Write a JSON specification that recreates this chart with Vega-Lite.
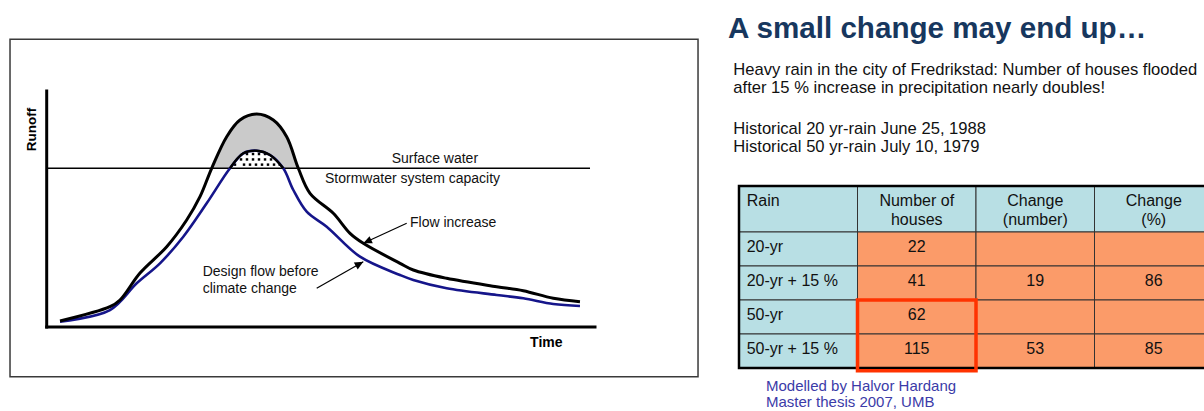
{
  "$schema": "https://vega.github.io/schema/vega-lite/v6.json",
  "padding": 0,
  "spacing": 0,
  "background": "white",
  "config": {
    "view": {"stroke": null},
    "axis": {"disable": true},
    "legend": {"disable": true},
    "font": "Liberation Sans",
    "text": {"font": "Liberation Sans", "color": "#111111"}
  },
  "datasets": {
    "flow": [
      {"series": "climate", "time": 2.43, "runoff": 2.54},
      {"series": "climate", "time": 11.54, "runoff": 8.6},
      {"series": "climate", "time": 13.37, "runoff": 11.44},
      {"series": "climate", "time": 17.02, "runoff": 22.88},
      {"series": "climate", "time": 21.89, "runoff": 34.03},
      {"series": "climate", "time": 25.53, "runoff": 45.34},
      {"series": "climate", "time": 27.96, "runoff": 55.21},
      {"series": "climate", "time": 30.09, "runoff": 67.25},
      {"series": "climate", "time": 32.83, "runoff": 80.64},
      {"series": "climate", "time": 35.25, "runoff": 87.71},
      {"series": "climate", "time": 38.3, "runoff": 90.25},
      {"series": "climate", "time": 41.33, "runoff": 87.71},
      {"series": "climate", "time": 43.77, "runoff": 80.64},
      {"series": "climate", "time": 45.89, "runoff": 67.25},
      {"series": "climate", "time": 48.02, "runoff": 56.65},
      {"series": "climate", "time": 52.27, "runoff": 48.18},
      {"series": "climate", "time": 55.32, "runoff": 39.7},
      {"series": "climate", "time": 57.74, "runoff": 35.47},
      {"series": "climate", "time": 64.44, "runoff": 26.99},
      {"series": "climate", "time": 66.86, "runoff": 24.15},
      {"series": "climate", "time": 72.95, "runoff": 20.64},
      {"series": "climate", "time": 82.07, "runoff": 17.08},
      {"series": "climate", "time": 86.92, "runoff": 15.38},
      {"series": "climate", "time": 92.39, "runoff": 12.16},
      {"series": "climate", "time": 97.26, "runoff": 10.72},
      {"series": "design", "time": 2.43, "runoff": 2.25},
      {"series": "design", "time": 11.54, "runoff": 7.2},
      {"series": "design", "time": 16.41, "runoff": 18.52},
      {"series": "design", "time": 20.66, "runoff": 26.99},
      {"series": "design", "time": 24.91, "runoff": 38.26},
      {"series": "design", "time": 29.18, "runoff": 52.42},
      {"series": "design", "time": 33.43, "runoff": 67.25},
      {"series": "design", "time": 35.86, "runoff": 73.6},
      {"series": "design", "time": 38.3, "runoff": 74.7},
      {"series": "design", "time": 40.73, "runoff": 72.88},
      {"series": "design", "time": 43.15, "runoff": 67.25},
      {"series": "design", "time": 44.98, "runoff": 58.05},
      {"series": "design", "time": 47.42, "runoff": 48.86},
      {"series": "design", "time": 51.07, "runoff": 42.5},
      {"series": "design", "time": 57.14, "runoff": 29.79},
      {"series": "design", "time": 64.44, "runoff": 22.03},
      {"series": "design", "time": 66.86, "runoff": 19.92},
      {"series": "design", "time": 72.95, "runoff": 16.4},
      {"series": "design", "time": 82.07, "runoff": 13.56},
      {"series": "design", "time": 86.92, "runoff": 12.16},
      {"series": "design", "time": 92.39, "runoff": 9.75},
      {"series": "design", "time": 97.26, "runoff": 8.9}
    ],
    "peakClimate": [
      {"time": 30.09, "runoff": 67.25, "capacity": 67.25},
      {"time": 32.83, "runoff": 80.64, "capacity": 67.25},
      {"time": 35.25, "runoff": 87.71, "capacity": 67.25},
      {"time": 38.3, "runoff": 90.25, "capacity": 67.25},
      {"time": 41.33, "runoff": 87.71, "capacity": 67.25},
      {"time": 43.77, "runoff": 80.64, "capacity": 67.25},
      {"time": 45.89, "runoff": 67.25, "capacity": 67.25}
    ],
    "peakDesign": [
      {"time": 33.43, "runoff": 67.25, "capacity": 67.25},
      {"time": 35.86, "runoff": 73.6, "capacity": 67.25},
      {"time": 38.3, "runoff": 74.7, "capacity": 67.25},
      {"time": 40.73, "runoff": 72.88, "capacity": 67.25},
      {"time": 43.15, "runoff": 67.25, "capacity": 67.25}
    ],
    "dots": [
      {"time": 36.53, "runoff": 73.3}, {"time": 37.63, "runoff": 73.3}, {"time": 38.72, "runoff": 73.3}, {"time": 39.82, "runoff": 73.3},
      {"time": 35.44, "runoff": 71.0}, {"time": 36.53, "runoff": 71.0}, {"time": 37.63, "runoff": 71.0}, {"time": 38.72, "runoff": 71.0}, {"time": 39.82, "runoff": 71.0}, {"time": 40.91, "runoff": 71.0},
      {"time": 34.34, "runoff": 68.8}, {"time": 35.99, "runoff": 68.8}, {"time": 37.08, "runoff": 68.8}, {"time": 38.17, "runoff": 68.8}, {"time": 39.27, "runoff": 68.8}, {"time": 40.36, "runoff": 68.8}, {"time": 41.46, "runoff": 68.8}, {"time": 42.5, "runoff": 68.8}
    ]
  },
  "hconcat": [
    {
      "width": 704,
      "height": 411,
      "layer": [
        {
          "data": {"values": [{"time": -6.69, "time2": 118.79, "runoff": 121.9, "runoff2": -21.06}]},
          "mark": {"type": "rect", "fill": "transparent", "stroke": "#3a3a3a", "strokeWidth": 1.5},
          "encoding": {
            "x": {"field": "time", "type": "quantitative", "axis": null, "scale": {"domain": [-8.517, 119.88], "nice": false, "zero": false}},
            "x2": {"field": "time2"},
            "y": {"field": "runoff", "type": "quantitative", "axis": null, "scale": {"domain": [-35.59, 138.56], "nice": false, "zero": false}},
            "y2": {"field": "runoff2"}
          }
        },
        {
          "data": {"name": "peakClimate"},
          "mark": {"type": "area", "fill": "#cacaca", "interpolate": "catmull-rom"},
          "encoding": {
            "x": {"field": "time", "type": "quantitative", "axis": null},
            "y": {"field": "runoff", "type": "quantitative", "axis": null},
            "y2": {"field": "capacity"}
          }
        },
        {
          "data": {"name": "peakDesign"},
          "mark": {"type": "area", "fill": "#ffffff", "interpolate": "catmull-rom"},
          "encoding": {
            "x": {"field": "time", "type": "quantitative", "axis": null},
            "y": {"field": "runoff", "type": "quantitative", "axis": null},
            "y2": {"field": "capacity"}
          }
        },
        {
          "data": {"name": "dots"},
          "mark": {"type": "point", "shape": "square", "filled": true, "size": 6, "color": "#000000", "opacity": 1},
          "encoding": {
            "x": {"field": "time", "type": "quantitative", "axis": null},
            "y": {"field": "runoff", "type": "quantitative", "axis": null}
          }
        },
        {
          "data": {"values": [{"time": 0, "time2": 99.09, "runoff": 67.25}]},
          "mark": {"type": "rule", "color": "#000000", "strokeWidth": 1.5},
          "encoding": {
            "x": {"field": "time", "type": "quantitative", "axis": null},
            "x2": {"field": "time2"},
            "y": {"field": "runoff", "type": "quantitative", "axis": null}
          }
        },
        {
          "data": {"name": "flow"},
          "transform": [{"filter": "datum.series === 'design'"}],
          "mark": {"type": "line", "color": "#15158a", "strokeWidth": 2.6, "interpolate": "catmull-rom"},
          "encoding": {
            "x": {"field": "time", "type": "quantitative", "axis": null},
            "y": {"field": "runoff", "type": "quantitative", "axis": null}
          }
        },
        {
          "data": {"name": "peakDesign"},
          "mark": {"type": "line", "color": "#000000", "strokeWidth": 2.4, "interpolate": "catmull-rom"},
          "encoding": {
            "x": {"field": "time", "type": "quantitative", "axis": null},
            "y": {"field": "runoff", "type": "quantitative", "axis": null}
          }
        },
        {
          "data": {"name": "flow"},
          "transform": [{"filter": "datum.series === 'climate'"}],
          "mark": {"type": "line", "color": "#000000", "strokeWidth": 3, "interpolate": "catmull-rom"},
          "encoding": {
            "x": {"field": "time", "type": "quantitative", "axis": null},
            "y": {"field": "runoff", "type": "quantitative", "axis": null}
          }
        },
        {
          "data": {"values": [
            {"time": 0, "runoff": 0, "time2": 0, "runoff2": 100},
            {"time": 0, "runoff": 0, "time2": 100, "runoff2": 0}
          ]},
          "mark": {"type": "rule", "color": "#000000", "strokeWidth": 3, "strokeCap": "square"},
          "encoding": {
            "x": {"field": "time", "type": "quantitative", "axis": null},
            "y": {"field": "runoff", "type": "quantitative", "axis": null},
            "x2": {"field": "time2"},
            "y2": {"field": "runoff2"}
          }
        },
        {
          "data": {"values": [
            {"label": "Flow increase", "time": 65.66, "runoff": 43.94, "time2": 57.74, "runoff2": 35.47},
            {"label": "Design flow before climate change", "time": 49.24, "runoff": 16.4, "time2": 57.74, "runoff2": 27.67}
          ]},
          "mark": {"type": "rule", "color": "#000000", "strokeWidth": 1.2},
          "encoding": {
            "x": {"field": "time", "type": "quantitative", "axis": null},
            "y": {"field": "runoff", "type": "quantitative", "axis": null},
            "x2": {"field": "time2"},
            "y2": {"field": "runoff2"}
          }
        },
        {
          "data": {"values": [{"label": "Flow increase", "time": 57.74, "runoff": 35.47}]},
          "mark": {"type": "point", "shape": "M0,0L-0.45,1L0.45,1Z", "filled": true, "color": "#000000", "opacity": 1, "size": 300, "angle": 245.3},
          "encoding": {
            "x": {"field": "time", "type": "quantitative", "axis": null},
            "y": {"field": "runoff", "type": "quantitative", "axis": null}
          }
        },
        {
          "data": {"values": [{"label": "Design flow before climate change", "time": 57.74, "runoff": 27.67}]},
          "mark": {"type": "point", "shape": "M0,0L-0.45,1L0.45,1Z", "filled": true, "color": "#000000", "opacity": 1, "size": 300, "angle": 60.3},
          "encoding": {
            "x": {"field": "time", "type": "quantitative", "axis": null},
            "y": {"field": "runoff", "type": "quantitative", "axis": null}
          }
        },
        {
          "data": {"values": [
            {"label": "Surface water", "time": 62.92, "runoff": 69.62},
            {"label": "Stormwater system capacity", "time": 50.76, "runoff": 60.89},
            {"label": "Flow increase", "time": 66.26, "runoff": 42.37},
            {"label": "Design flow before\nclimate change", "time": 28.45, "runoff": 21.61}
          ]},
          "mark": {"type": "text", "align": "left", "baseline": "alphabetic", "fontSize": 14, "lineBreak": "\n", "lineHeight": 17, "color": "#111111"},
          "encoding": {
            "x": {"field": "time", "type": "quantitative", "axis": null},
            "y": {"field": "runoff", "type": "quantitative", "axis": null},
            "text": {"field": "label"}
          }
        },
        {
          "data": {"values": [{"label": "Runoff", "time": -2.68, "runoff": 83.69}]},
          "mark": {"type": "text", "align": "center", "baseline": "middle", "fontSize": 13.5, "fontWeight": "bold", "angle": 270, "color": "#000000"},
          "encoding": {
            "x": {"field": "time", "type": "quantitative", "axis": null},
            "y": {"field": "runoff", "type": "quantitative", "axis": null},
            "text": {"field": "label"}
          }
        },
        {
          "data": {"values": [{"label": "Time", "time": 91.12, "runoff": -6.57}]},
          "mark": {"type": "text", "align": "center", "baseline": "middle", "fontSize": 14, "fontWeight": "bold", "color": "#000000"},
          "encoding": {
            "x": {"field": "time", "type": "quantitative", "axis": null},
            "y": {"field": "runoff", "type": "quantitative", "axis": null},
            "text": {"field": "label"}
          }
        }
      ]
    },
    {
      "width": 500,
      "height": 411,
      "layer": [
        {
          "data": {"values": [
            {"col": "Rain", "row": "header", "c0": 0, "c1": 1, "r0": -1.353, "r1": 0, "kind": "head"},
            {"col": "Number of houses", "row": "header", "c0": 1, "c1": 2, "r0": -1.353, "r1": 0, "kind": "head"},
            {"col": "Change (number)", "row": "header", "c0": 2, "c1": 3, "r0": -1.353, "r1": 0, "kind": "head"},
            {"col": "Change (%)", "row": "header", "c0": 3, "c1": 4, "r0": -1.353, "r1": 0, "kind": "head"},
            {"col": "Rain", "row": "20-yr", "c0": 0, "c1": 1, "r0": 0, "r1": 1, "kind": "head"},
            {"col": "Number of houses", "row": "20-yr", "c0": 1, "c1": 2, "r0": 0, "r1": 1, "kind": "value"},
            {"col": "Change (number)", "row": "20-yr", "c0": 2, "c1": 3, "r0": 0, "r1": 1, "kind": "value"},
            {"col": "Change (%)", "row": "20-yr", "c0": 3, "c1": 4, "r0": 0, "r1": 1, "kind": "value"},
            {"col": "Rain", "row": "20-yr + 15 %", "c0": 0, "c1": 1, "r0": 1, "r1": 2, "kind": "head"},
            {"col": "Number of houses", "row": "20-yr + 15 %", "c0": 1, "c1": 2, "r0": 1, "r1": 2, "kind": "value"},
            {"col": "Change (number)", "row": "20-yr + 15 %", "c0": 2, "c1": 3, "r0": 1, "r1": 2, "kind": "value"},
            {"col": "Change (%)", "row": "20-yr + 15 %", "c0": 3, "c1": 4, "r0": 1, "r1": 2, "kind": "value"},
            {"col": "Rain", "row": "50-yr", "c0": 0, "c1": 1, "r0": 2, "r1": 3, "kind": "head"},
            {"col": "Number of houses", "row": "50-yr", "c0": 1, "c1": 2, "r0": 2, "r1": 3, "kind": "value"},
            {"col": "Change (number)", "row": "50-yr", "c0": 2, "c1": 3, "r0": 2, "r1": 3, "kind": "value"},
            {"col": "Change (%)", "row": "50-yr", "c0": 3, "c1": 4, "r0": 2, "r1": 3, "kind": "value"},
            {"col": "Rain", "row": "50-yr + 15 %", "c0": 0, "c1": 1, "r0": 3, "r1": 4, "kind": "head"},
            {"col": "Number of houses", "row": "50-yr + 15 %", "c0": 1, "c1": 2, "r0": 3, "r1": 4, "kind": "value"},
            {"col": "Change (number)", "row": "50-yr + 15 %", "c0": 2, "c1": 3, "r0": 3, "r1": 4, "kind": "value"},
            {"col": "Change (%)", "row": "50-yr + 15 %", "c0": 3, "c1": 4, "r0": 3, "r1": 4, "kind": "value"}
          ]},
          "mark": {"type": "rect", "stroke": "#333333", "strokeWidth": 1, "clip": true, "opacity": 1},
          "encoding": {
            "x": {"field": "c0", "type": "quantitative", "axis": null, "scale": {"domain": [-0.29536, 3.92405], "nice": false, "zero": false}},
            "x2": {"field": "c1"},
            "y": {"field": "r0", "type": "quantitative", "axis": null, "scale": {"domain": [-6.8235, 5.2647], "nice": false, "zero": false, "reverse": true}},
            "y2": {"field": "r1"},
            "color": {"field": "kind", "type": "nominal", "legend": null, "scale": {"domain": ["head", "value"], "range": ["#b8dfe4", "#fb9b69"]}}
          }
        },
        {
          "data": {"values": [{"c0": 0, "c1": 4, "r0": -1.353, "r1": 4}]},
          "mark": {"type": "rect", "fill": "transparent", "stroke": "#000000", "strokeWidth": 2.5, "clip": true},
          "encoding": {
            "x": {"field": "c0", "type": "quantitative", "axis": null},
            "x2": {"field": "c1"},
            "y": {"field": "r0", "type": "quantitative", "axis": null},
            "y2": {"field": "r1"}
          }
        },
        {
          "data": {"values": [{"c0": 1, "c1": 2, "r0": 2, "r1": 4.08}]},
          "mark": {"type": "rect", "fill": "transparent", "stroke": "#ff3300", "strokeWidth": 3.5, "clip": true},
          "encoding": {
            "x": {"field": "c0", "type": "quantitative", "axis": null},
            "x2": {"field": "c1"},
            "y": {"field": "r0", "type": "quantitative", "axis": null},
            "y2": {"field": "r1"}
          }
        },
        {
          "data": {"values": [
            {"text": "Rain", "x": 0.065, "y": -0.75},
            {"text": "20-yr", "x": 0.065, "y": 0.58},
            {"text": "20-yr + 15 %", "x": 0.065, "y": 1.58},
            {"text": "50-yr", "x": 0.065, "y": 2.58},
            {"text": "50-yr + 15 %", "x": 0.065, "y": 3.58}
          ]},
          "mark": {"type": "text", "align": "left", "baseline": "alphabetic", "fontSize": 16, "color": "#111111"},
          "encoding": {
            "x": {"field": "x", "type": "quantitative", "axis": null},
            "y": {"field": "y", "type": "quantitative", "axis": null},
            "text": {"field": "text"}
          }
        },
        {
          "data": {"values": [
            {"text": "Number of\nhouses", "x": 1.5, "y": -0.75},
            {"text": "Change\n(number)", "x": 2.5, "y": -0.75},
            {"text": "Change\n(%)", "x": 3.5, "y": -0.75},
            {"text": "22", "x": 1.5, "y": 0.58},
            {"text": "41", "x": 1.5, "y": 1.58},
            {"text": "19", "x": 2.5, "y": 1.58},
            {"text": "86", "x": 3.5, "y": 1.58},
            {"text": "62", "x": 1.5, "y": 2.58},
            {"text": "115", "x": 1.5, "y": 3.58},
            {"text": "53", "x": 2.5, "y": 3.58},
            {"text": "85", "x": 3.5, "y": 3.58}
          ]},
          "mark": {"type": "text", "align": "center", "baseline": "alphabetic", "fontSize": 16, "lineBreak": "\n", "lineHeight": 18.5, "color": "#111111"},
          "encoding": {
            "x": {"field": "x", "type": "quantitative", "axis": null},
            "y": {"field": "y", "type": "quantitative", "axis": null},
            "text": {"field": "text"}
          }
        },
        {
          "data": {"values": [{"text": "A small change may end up…", "x": -0.0928, "y": -5.697}]},
          "mark": {"type": "text", "align": "left", "baseline": "alphabetic", "fontSize": 29.6, "fontWeight": "bold", "color": "#17375e"},
          "encoding": {
            "x": {"field": "x", "type": "quantitative", "axis": null},
            "y": {"field": "y", "type": "quantitative", "axis": null},
            "text": {"field": "text"}
          }
        },
        {
          "data": {"values": [
            {"text": "Heavy rain in the city of Fredrikstad: Number of houses flooded\nafter 15 % increase in precipitation nearly doubles!", "x": -0.0481, "y": -4.618},
            {"text": "Historical 20 yr-rain June 25, 1988\nHistorical 50 yr-rain July 10, 1979", "x": -0.0481, "y": -2.891}
          ]},
          "mark": {"type": "text", "align": "left", "baseline": "alphabetic", "fontSize": 16.6, "lineBreak": "\n", "lineHeight": 18.5, "color": "#111111"},
          "encoding": {
            "x": {"field": "x", "type": "quantitative", "axis": null},
            "y": {"field": "y", "type": "quantitative", "axis": null},
            "text": {"field": "text"}
          }
        },
        {
          "data": {"values": [{"text": "Modelled by Halvor Hardang\nMaster thesis 2007, UMB", "x": 0.228, "y": 4.676}]},
          "mark": {"type": "text", "align": "left", "baseline": "alphabetic", "fontSize": 15, "lineBreak": "\n", "lineHeight": 16, "color": "#3b3ba8", "clip": true},
          "encoding": {
            "x": {"field": "x", "type": "quantitative", "axis": null},
            "y": {"field": "y", "type": "quantitative", "axis": null},
            "text": {"field": "text"}
          }
        }
      ]
    }
  ]
}
